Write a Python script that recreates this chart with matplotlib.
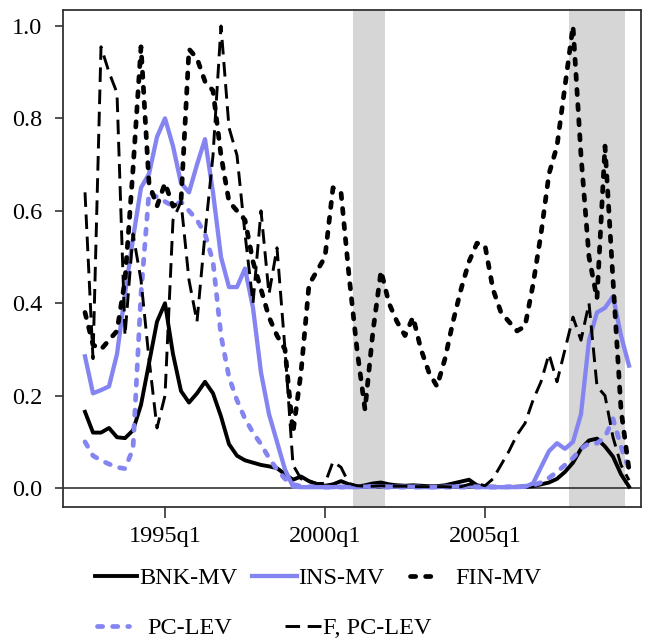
import matplotlib
matplotlib.use("Agg")
import matplotlib.pyplot as plt
import numpy as np
import pandas as pd

plt.rcParams['font.family'] = ['Liberation Serif', 'DejaVu Serif']

# quarterly sample 1992q3 .. 2009q3
quarters = pd.period_range('1992Q3', '2009Q3', freq='Q')

bnk_mv = [0.165, 0.12, 0.12, 0.13, 0.11, 0.108, 0.125, 0.18, 0.27, 0.36,
          0.40, 0.29, 0.21, 0.185, 0.205, 0.23, 0.205, 0.155, 0.095, 0.07,
          0.06, 0.055, 0.05, 0.047, 0.043, 0.03, 0.018, 0.025, 0.015, 0.008,
          0.005, 0.008, 0.015, 0.008, 0.003, 0.006, 0.01, 0.012, 0.008, 0.006,
          0.005, 0.006, 0.005, 0.004, 0.004, 0.006, 0.01, 0.014, 0.018, 0.006,
          0.003, 0.003, 0.002, 0.002, 0.003, 0.003, 0.004, 0.008, 0.012, 0.02,
          0.035, 0.055, 0.085, 0.103, 0.107, 0.09, 0.068, 0.03, 0.003]

ins_mv = [0.285, 0.205, 0.212, 0.22, 0.29, 0.42, 0.54, 0.65, 0.68, 0.76,
          0.80, 0.74, 0.66, 0.64, 0.70, 0.755, 0.64, 0.50, 0.435, 0.435,
          0.475, 0.39, 0.25, 0.16, 0.10, 0.04, 0.003, 0.002, 0.002, 0.002,
          0.002, 0.002, 0.003, 0.002, 0.002, 0.003, 0.004, 0.004, 0.003, 0.003,
          0.003, 0.003, 0.002, 0.002, 0.002, 0.003, 0.003, 0.004, 0.004, 0.003,
          0.002, 0.002, 0.002, 0.002, 0.002, 0.003, 0.01, 0.045, 0.08, 0.097,
          0.085, 0.10, 0.16, 0.32, 0.38, 0.39, 0.415, 0.33, 0.265]

fin_mv = [0.38, 0.31, 0.30, 0.32, 0.34, 0.45, 0.69, 0.955, 0.66, 0.61,
          0.66, 0.61, 0.62, 0.95, 0.93, 0.88, 0.86, 0.72, 0.62, 0.60,
          0.58, 0.49, 0.43, 0.37, 0.33, 0.30, 0.12, 0.25, 0.44, 0.47,
          0.50, 0.65, 0.64, 0.46, 0.30, 0.17, 0.34, 0.47, 0.40, 0.36,
          0.33, 0.37, 0.30, 0.25, 0.22, 0.28, 0.36, 0.43, 0.49, 0.53,
          0.525, 0.43, 0.38, 0.36, 0.34, 0.35, 0.44, 0.55, 0.68, 0.74,
          0.87, 1.0, 0.72, 0.50, 0.41, 0.74, 0.45, 0.17, 0.04]

pc_lev = [0.10, 0.07, 0.06, 0.052, 0.045, 0.042, 0.085, 0.42, 0.64, 0.63,
          0.62, 0.61, 0.62, 0.60, 0.58, 0.55, 0.49, 0.33, 0.24, 0.19,
          0.15, 0.12, 0.095, 0.065, 0.04, 0.02, 0.008, 0.004, 0.003, 0.003,
          0.002, 0.002, 0.002, 0.002, 0.003, 0.003, 0.003, 0.002, 0.002, 0.002,
          0.002, 0.002, 0.002, 0.002, 0.002, 0.002, 0.002, 0.002, 0.002, 0.002,
          0.002, 0.002, 0.002, 0.003, 0.003, 0.004, 0.006, 0.012, 0.022, 0.035,
          0.05, 0.065, 0.085, 0.097, 0.097, 0.11, 0.15, 0.09, 0.04]

f_pc_lev = [0.64, 0.28, 0.955, 0.90, 0.855, 0.33, 0.55, 0.45, 0.28, 0.13,
            0.20, 0.58, 0.62, 0.45, 0.36, 0.55, 0.72, 1.0, 0.78, 0.72,
            0.55, 0.40, 0.60, 0.42, 0.52, 0.30, 0.05, 0.02, 0.015, 0.01,
            0.01, 0.057, 0.045, 0.01, 0.005, 0.004, 0.004, 0.005, 0.004, 0.004,
            0.004, 0.003, 0.003, 0.003, 0.003, 0.003, 0.002, 0.003, 0.008, 0.01,
            0.005, 0.02, 0.05, 0.08, 0.115, 0.14, 0.19, 0.23, 0.29, 0.23,
            0.30, 0.37, 0.32, 0.40, 0.22, 0.20, 0.11, 0.05, 0.017]

recessions = [('2001Q1', '2001Q4'), ('2007Q4', '2009Q2')]
tick_quarters = ['1995Q1', '2000Q1', '2005Q1']
tick_labels = ['1995q1', '2000q1', '2005q1']
yticks = [0.0, 0.2, 0.4, 0.6, 0.8, 1.0]


def qnum(p):
    p = pd.Period(p, freq='Q')
    return p.year + (p.quarter - 1) / 4.0


x = np.array([qnum(q) for q in quarters])

fig = plt.figure(figsize=(6.54, 6.43), dpi=100)
ax = fig.add_axes([63 / 654, 1 - 507 / 643, (641 - 63) / 654, (507 - 10) / 643])

for a, b in recessions:
    ax.axvspan(qnum(a) - 0.125, qnum(b) + 0.125, color='#d6d6d6', lw=0, zorder=0)

ax.axhline(0, color='#222222', lw=1.1, zorder=1)

blue = '#8585f2'
dot = (0, (1.1, 2.1))
l_bnk, = ax.plot(x, bnk_mv, color='black', lw=2.8, solid_joinstyle='round', zorder=3, label='BNK-MV')
l_ins, = ax.plot(x, ins_mv, color=blue, lw=3.1, solid_joinstyle='round', zorder=3, label='INS-MV')
l_pc, = ax.plot(x, pc_lev, color=blue, lw=3.4, linestyle=dot, dash_capstyle='round',
                zorder=3, label='PC-LEV')
l_fin, = ax.plot(x, fin_mv, color='black', lw=3.4, linestyle=dot, dash_capstyle='round',
                 zorder=4, label='FIN-MV')
l_f, = ax.plot(x, f_pc_lev, color='black', lw=2.1, linestyle=(0, (5.0, 2.6)), dash_capstyle='butt',
               zorder=4, label='F, PC-LEV')

ax.set_xlim(qnum('1995Q1') - 12.75 / 4, qnum('1995Q1') + 59.5 / 4)
ax.set_ylim(-0.041, 1.0346)
ax.set_xticks([qnum(q) for q in tick_quarters])
ax.set_xticklabels(tick_labels)
ax.set_yticks(yticks)
ax.set_yticklabels([f'{v:.1f}' for v in yticks])
ax.tick_params(axis='both', labelsize=17.5, direction='out', color='#333333', width=1.2)
ax.tick_params(axis='x', length=8, pad=6)
ax.tick_params(axis='y', length=6, pad=9)
for s in ax.spines.values():
    s.set_color('#333333')
    s.set_linewidth(1.3)

FS = 17.5
EM = FS * 100 / 72.0  # pixels per em


def entry(handle, x0, yc, hlen_px, pad_px):
    fig.legend(handles=[handle], loc='center left',
               bbox_to_anchor=(x0 / 654, 1 - yc / 643), frameon=False,
               fontsize=FS, handlelength=hlen_px / EM, handletextpad=pad_px / EM,
               borderaxespad=0, borderpad=0)


entry(l_bnk, 95, 578, 42, 2)
entry(l_ins, 252, 578, 45, 1)
entry(l_fin, 410, 578, 30, 15)
entry(l_pc, 97, 628, 32, 18)
entry(l_f, 285, 628, 36, 2)

fig.savefig('out.png', dpi=100)
